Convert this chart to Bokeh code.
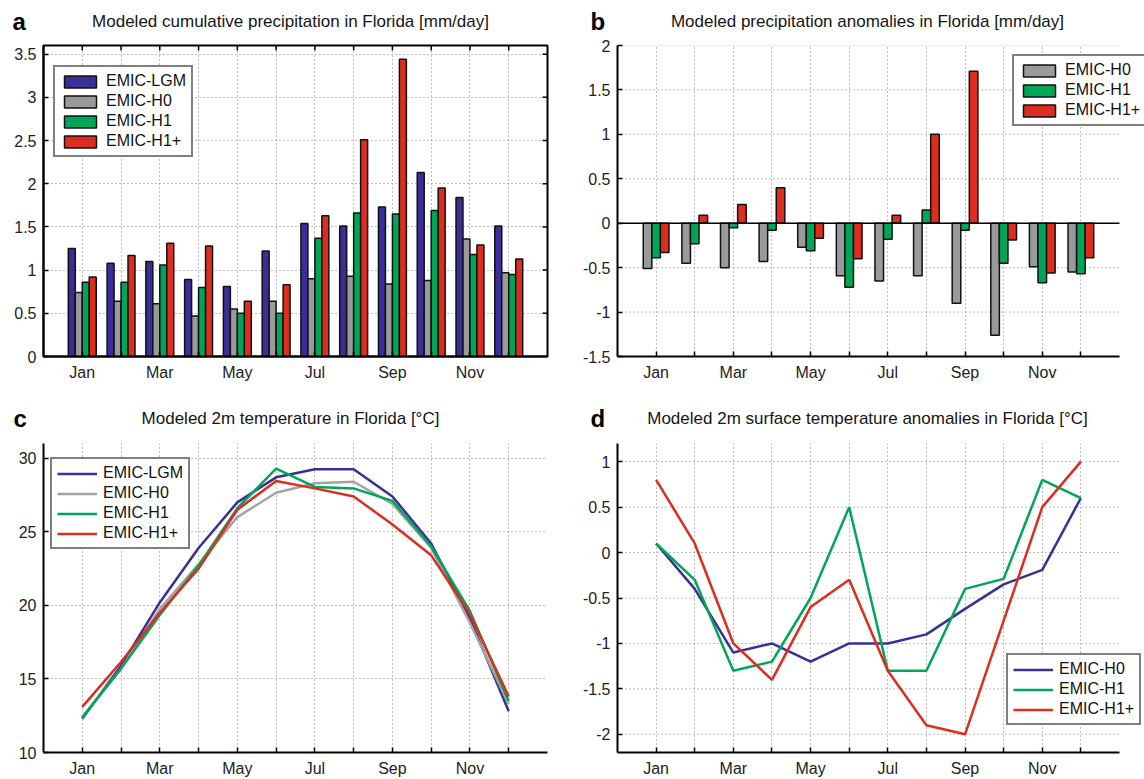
from bokeh.plotting import figure
from bokeh.layouts import column, row
from bokeh.models import ColumnDataSource, FixedTicker, Range1d, Label
from bokeh.transform import dodge
from bokeh.embed import file_html
from bokeh.resources import INLINE

# ---------------- data ----------------
months = list(range(1, 13))
month_names = ["Jan", "Feb", "Mar", "Apr", "May", "Jun", "Jul", "Aug", "Sep", "Oct", "Nov", "Dec"]

precip_lgm = [1.25, 1.08, 1.10, 0.89, 0.81, 1.22, 1.54, 1.51, 1.73, 2.13, 1.84, 1.51]
precip_h0 = [0.74, 0.64, 0.61, 0.47, 0.55, 0.64, 0.90, 0.93, 0.84, 0.88, 1.36, 0.97]
precip_h1 = [0.86, 0.86, 1.06, 0.80, 0.50, 0.50, 1.37, 1.66, 1.65, 1.69, 1.18, 0.95]
precip_h1p = [0.92, 1.17, 1.31, 1.28, 0.64, 0.83, 1.63, 2.51, 3.44, 1.95, 1.29, 1.13]

anom_p_h0 = [-0.51, -0.45, -0.50, -0.43, -0.27, -0.59, -0.65, -0.59, -0.90, -1.26, -0.49, -0.55]
anom_p_h1 = [-0.39, -0.23, -0.05, -0.08, -0.31, -0.72, -0.18, 0.15, -0.08, -0.45, -0.67, -0.57]
anom_p_h1p = [-0.33, 0.09, 0.21, 0.40, -0.17, -0.40, 0.09, 1.00, 1.71, -0.19, -0.56, -0.39]

temp_lgm = [12.3, 15.9, 20.2, 23.9, 27.0, 28.7, 29.25, 29.25, 27.4, 24.2, 19.1, 12.8]
temp_h0 = [12.4, 15.7, 19.75, 22.8, 26.0, 27.65, 28.3, 28.4, 26.9, 23.9, 18.8, 13.3]
temp_h1 = [12.4, 15.7, 19.35, 22.7, 26.6, 29.3, 28.05, 27.95, 27.1, 24.0, 19.6, 13.5]
temp_h1p = [13.1, 16.15, 19.5, 22.5, 26.5, 28.45, 27.95, 27.4, 25.5, 23.4, 19.4, 13.8]

anom_t_h0 = [0.1, -0.4, -1.1, -1.0, -1.2, -1.0, -1.0, -0.9, -0.62, -0.35, -0.19, 0.6]
anom_t_h1 = [0.1, -0.3, -1.3, -1.2, -0.5, 0.5, -1.3, -1.3, -0.4, -0.29, 0.8, 0.6]
anom_t_h1p = [0.8, 0.1, -1.0, -1.4, -0.6, -0.3, -1.3, -1.9, -2.0, -0.75, 0.5, 1.0]

yticks_a = [0, 0.5, 1, 1.5, 2, 2.5, 3, 3.5]
yticks_b = [-1.5, -1, -0.5, 0, 0.5, 1, 1.5, 2]
yticks_c = [10, 15, 20, 25, 30]
yticks_d = [-2, -1.5, -1, -0.5, 0, 0.5, 1]

titles = ["Modeled cumulative precipitation in Florida [mm/day]",
          "Modeled precipitation anomalies in Florida [mm/day]",
          "Modeled 2m temperature in Florida [\u00b0C]",
          "Modeled 2m surface temperature anomalies in Florida [\u00b0C]"]
letters = ["a", "b", "c", "d"]
names4 = ["EMIC-LGM", "EMIC-H0", "EMIC-H1", "EMIC-H1+"]
names3 = ["EMIC-H0", "EMIC-H1", "EMIC-H1+"]

# ---------------- styles ----------------
FONT = "Liberation Sans"
BLUE = "#3a2e98"
GRAY = "#9a9a9a"
GRAY_L = "#a3a3a3"
GREEN = "#00a658"
RED = "#dc2d1f"
TICK_FS = "16px"
TITLE_FS = "17px"
LEG_FS = "16px"
GRID_COLOR = "#7a7a7a"
TICK_LEN = 5
W = 572


def style_axes(p, yticks, own_ygrid=False):
    p.xaxis.ticker = FixedTicker(ticks=months)
    p.xaxis.major_label_overrides = {m: (n if m % 2 == 1 else "") for m, n in zip(months, month_names)}
    p.yaxis.ticker = FixedTicker(ticks=yticks)
    p.yaxis.major_label_overrides = {t: ("%g" % t) for t in yticks}
    for ax in (p.xaxis, p.yaxis):
        ax.major_tick_in = TICK_LEN
        ax.major_tick_out = 0
        ax.minor_tick_line_color = None
        ax.axis_line_color = "black"
        ax.axis_line_width = 2
        ax.major_tick_line_color = "black"
        ax.major_tick_line_width = 1.5
        ax.major_label_text_font = FONT
        ax.major_label_text_font_size = TICK_FS
        ax.major_label_text_color = "#222222"
        ax.major_label_standoff = 7
    p.xgrid.ticker = FixedTicker(ticks=months)
    p.ygrid.ticker = FixedTicker(ticks=yticks)
    for g in (p.xgrid, p.ygrid):
        g.grid_line_color = GRID_COLOR
        g.grid_line_dash = "1 3"
        g.grid_line_width = 1
    if own_ygrid:
        # horizontal grid only across the months axis (frame is wider to hold the legend)
        p.ygrid.visible = False
        p.xaxis.bounds = (0, 13)
        gsrc = ColumnDataSource(dict(y=yticks, x0=[0] * len(yticks), x1=[13] * len(yticks)))
        p.segment(x0="x0", x1="x1", y0="y", y1="y", source=gsrc, line_color=GRID_COLOR,
                  line_dash="1 3", line_width=1, level="underlay")
    p.outline_line_color = None


def style_legend(p, x, y):
    lg = p.legend[0]
    lg.location = (x, y)
    lg.label_text_font = FONT
    lg.label_text_font_size = LEG_FS
    lg.label_text_color = "#111111"
    lg.label_height = 18
    lg.glyph_height = 15
    lg.glyph_width = 40
    lg.label_standoff = 6
    lg.spacing = 2
    lg.padding = 5
    lg.margin = 0
    lg.border_line_color = "black"
    lg.border_line_width = 2
    lg.background_fill_alpha = 1


def make_fig(h, yr, bl, br, bt, bb, x_end=13):
    p = figure(width=W, height=h, x_range=Range1d(0, x_end), y_range=Range1d(*yr),
               output_backend="svg", toolbar_location=None, title=None,
               min_border_left=bl, min_border_right=br, min_border_top=bt, min_border_bottom=bb)
    p.background_fill_color = "white"
    p.border_fill_color = "white"
    return p


def title_fig(h, letter, lx, ly, title, tx, ty):
    t = figure(width=W, height=h, x_range=Range1d(0, W), y_range=Range1d(0, h),
               output_backend="svg", toolbar_location=None, title=None,
               x_axis_type=None, y_axis_type=None, min_border=0)
    t.grid.visible = False
    t.outline_line_color = None
    t.background_fill_color = "white"
    t.border_fill_color = "white"
    t.add_layout(Label(x=lx, y=ly, text=letter, text_font=FONT, text_font_size="24px",
                       text_font_style="bold", text_color="black", text_baseline="alphabetic"))
    t.add_layout(Label(x=tx, y=ty, text=title, text_font=FONT, text_font_size=TITLE_FS,
                       text_color="#151515", text_align="center", text_baseline="alphabetic"))
    return t


# layout constants (pixels)
T1, P1, T2, P2 = 36, 354, 42, 347
BT1 = 9
FRAME_W_LEFT = W - 43 - 25          # 504
FRAME_W_RIGHT = 502                 # months 0..13 span in the right panels
X_END_RIGHT = 13 * (W - 45) / FRAME_W_RIGHT

# ---------------- panel a ----------------
src_a = ColumnDataSource(dict(month=months, lgm=precip_lgm, h0=precip_h0, h1=precip_h1, h1p=precip_h1p))
pa = make_fig(P1, (0, 3.6), 43, 25, BT1, 34)
bw4 = 0.18
for key, off, col, nm in zip(["lgm", "h0", "h1", "h1p"], [-1.5, -0.5, 0.5, 1.5],
                             [BLUE, GRAY, GREEN, RED], names4):
    pa.vbar(x=dodge("month", off * bw4, range=pa.x_range), top=key, bottom=0, width=bw4,
            source=src_a, fill_color=col, line_color="#111111", line_width=1.5, legend_label=nm)
style_axes(pa, yticks_a)
pa.outline_line_color = "black"
pa.outline_line_width = 2
# inward ticks on the top and right edges of the box
frame_h_a = P1 - BT1 - 34
dy = TICK_LEN * 3.6 / frame_h_a
dx = TICK_LEN * 13 / FRAME_W_LEFT
top_src = ColumnDataSource(dict(x=months, y0=[3.6] * 12, y1=[3.6 - dy] * 12))
pa.segment(x0="x", x1="x", y0="y0", y1="y1", source=top_src, line_color="black", line_width=1.5)
right_src = ColumnDataSource(dict(y=yticks_a, x0=[13] * len(yticks_a), x1=[13 - dx] * len(yticks_a)))
pa.segment(x0="x0", x1="x1", y0="y", y1="y", source=right_src, line_color="black", line_width=1.5)
style_legend(pa, 10, 199)

# ---------------- panel b ----------------
src_b = ColumnDataSource(dict(month=months, h0=anom_p_h0, h1=anom_p_h1, h1p=anom_p_h1p))
pb = make_fig(P1, (-1.5, 2), 45, 0, BT1, 34, x_end=X_END_RIGHT)
style_axes(pb, yticks_b, own_ygrid=True)
bw3 = 0.222
for key, off, col, nm in zip(["h0", "h1", "h1p"], [-1, 0, 1], [GRAY, GREEN, RED], names3):
    pb.vbar(x=dodge("month", off * bw3, range=pb.x_range), top=key, bottom=0, width=bw3,
            source=src_b, fill_color=col, line_color="#111111", line_width=1.5, legend_label=nm)
base_src = ColumnDataSource(dict(x0=[0], x1=[13], y=[0]))
pb.segment(x0="x0", x1="x1", y0="y", y1="y", source=base_src, line_color="black", line_width=1.5)
style_legend(pb, 395, 230)

# ---------------- panel c ----------------
src_c = ColumnDataSource(dict(month=months, lgm=temp_lgm, h0=temp_h0, h1=temp_h1, h1p=temp_h1p))
pc = make_fig(P2, (10, 31), 43, 25, 11, 26)
for key, col, nm in zip(["lgm", "h0", "h1", "h1p"], [BLUE, GRAY_L, GREEN, RED], names4):
    pc.line(x="month", y=key, source=src_c, line_color=col, line_width=2.5, legend_label=nm)
style_axes(pc, yticks_c)
style_legend(pc, 7, 203)

# ---------------- panel d ----------------
src_d = ColumnDataSource(dict(month=months, h0=anom_t_h0, h1=anom_t_h1, h1p=anom_t_h1p))
pd_ = make_fig(P2, (-2.2, 1.2), 45, 0, 11, 26, x_end=X_END_RIGHT)
style_axes(pd_, yticks_d, own_ygrid=True)
for key, col, nm in zip(["h0", "h1", "h1p"], [BLUE, GREEN, RED], names3):
    pd_.line(x="month", y=key, source=src_d, line_color=col, line_width=2.5, legend_label=nm)
style_legend(pd_, 389, 27)

# ---------------- titles ----------------
ta = title_fig(T1, letters[0], 12, 15, titles[0], 290, 15)
tb = title_fig(T1, letters[1], 18, 15, titles[1], 295, 15)
tc = title_fig(T2, letters[2], 13, 14, titles[2], 290, 14)
td = title_fig(T2, letters[3], 18, 14, titles[3], 295, 14)

layout = column(row(ta, tb), row(pa, pb), row(tc, td), row(pc, pd_))
open("out.html", "w").write(file_html(layout, INLINE))
